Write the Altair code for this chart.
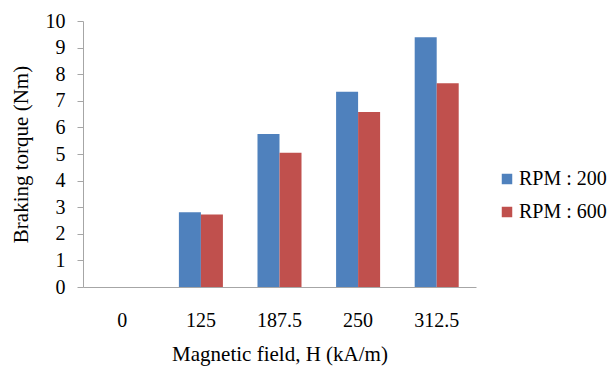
import altair as alt
import pandas as pd

fields = ["0", "125", "187.5", "250", "312.5"]
rpm200 = [0, 2.81, 5.75, 7.34, 9.39]
rpm600 = [0, 2.73, 5.05, 6.58, 7.66]
series = ["RPM : 200", "RPM : 600"]
colors = ["#4F81BD", "#C0504D"]

rows = []
for f, a, b in zip(fields, rpm200, rpm600):
    rows.append({"field": f, "series": series[0], "torque": a})
    rows.append({"field": f, "series": series[1], "torque": b})
df = pd.DataFrame(rows)

FONT = "Liberation Serif"
LFS = 20
TFS = 21

chart = alt.Chart(df).mark_bar().encode(
    x=alt.X("field:N", sort=fields,
            scale=alt.Scale(paddingInner=0.44, paddingOuter=0.22),
            axis=alt.Axis(title="Magnetic field, H (kA/m)", labelAngle=0, ticks=False,
                          labelFont=FONT, titleFont=FONT, labelFontSize=LFS, titleFontSize=TFS,
                          labelColor="#000000", titleColor="#000000", titleFontWeight="normal",
                          domainColor="#A6A6A6", labelPadding=23, titlePadding=13)),
    xOffset=alt.XOffset("series:N", sort=series),
    y=alt.Y("torque:Q", scale=alt.Scale(domain=[0, 10]),
            axis=alt.Axis(title="Braking torque (Nm)", values=list(range(11)), grid=False,
                          labelFont=FONT, titleFont=FONT, labelFontSize=LFS, titleFontSize=TFS,
                          labelColor="#000000", titleColor="#000000", titleFontWeight="normal",
                          tickColor="#A6A6A6", domainColor="#A6A6A6", tickSize=6,
                          labelPadding=12, titlePadding=14)),
    color=alt.Color("series:N", sort=series,
                    scale=alt.Scale(domain=series, range=colors),
                    legend=alt.Legend(title=None, orient="none", legendX=414, legendY=148,
                                      labelFont=FONT, labelFontSize=20, labelColor="#000000",
                                      symbolType="square", symbolSize=110, symbolStrokeWidth=0,
                                      rowPadding=13, labelOffset=2)),
).properties(
    width=393, height=266,
    autosize=alt.AutoSizeParams(type="none"),
    padding={"left": 83, "top": 21, "right": 139, "bottom": 82},
).configure(font=FONT).configure_view(stroke=None)

chart.save("out.html", embed_options={"renderer": "svg", "actions": False})
